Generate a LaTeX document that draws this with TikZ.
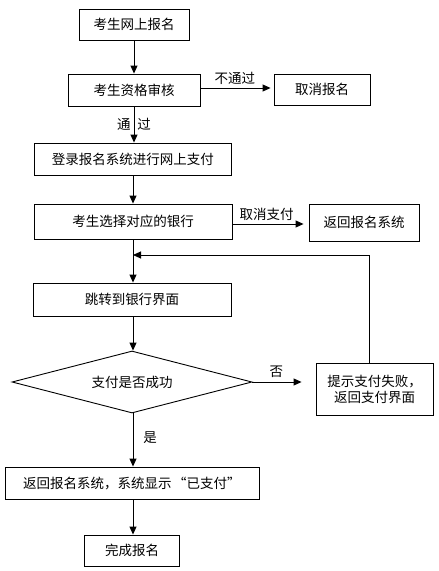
\documentclass[tikz,border=0pt]{standalone}
\usepackage{fontspec}
\setmainfont{Noto Sans CJK SC}
\usetikzlibrary{shapes.geometric,arrows.meta}
\begin{document}
\begin{tikzpicture}[x=1pt,y=-1pt,
  every node/.style={font=\fontsize{13.5}{16}\selectfont},
  box/.style={draw,line width=0.9pt,inner sep=0pt,align=center},
  lbl/.style={inner sep=0pt},
  arr/.style={line width=0.9pt,-{Triangle[length=8pt,width=7pt]}}]
\fill[white] (0,0) rectangle (439,571);
\useasboundingbox (0,0) rectangle (439,571);
\node[box,minimum width=110pt,minimum height=31pt] (b1) at (134,24.5) {考生网上报名};
\node[box,minimum width=132pt,minimum height=32pt] (b2) at (134,90) {考生资格审核};
\node[box,minimum width=96pt,minimum height=31pt] (b3) at (322,89.5) {取消报名};
\node[box,minimum width=197pt,minimum height=32pt] (b4) at (133,159) {登录报名系统进行网上支付};
\node[box,minimum width=198pt,minimum height=35pt] (b5) at (133,221.5) {考生选择对应的银行};
\node[box,minimum width=110pt,minimum height=37pt] (b6) at (364,222.5) {返回报名系统};
\node[box,minimum width=198pt,minimum height=33pt] (b7) at (132,299.5) {跳转到银行界面};
\node[box,diamond,aspect=3.87,minimum width=240pt,minimum height=62pt] (d) at (132,382) {支付是否成功};
\node[box,minimum width=117pt,minimum height=52pt] (b8) at (374.5,389) {提示支付失败，\\返回支付界面};
\node[box,minimum width=254pt,minimum height=32pt] (b9) at (132,483) {返回报名系统，系统显示\hspace{1.5pt}“已支付”};
\node[box,minimum width=95pt,minimum height=31pt] (b10) at (132,550.5) {完成报名};
\coordinate (fb) at (133,255);
\draw[arr] (b1.south -| 134,0) -- (b2.north -| 134,0);
\draw[arr,shorten >=3pt] (b2.east |- 0,88) -- (b3.west |- 0,88) node[lbl,pos=0.47,above=3pt] {不通过};
\draw[arr] (b2.south -| 134,0) -- (b4.north -| 134,0) node[lbl,midway] {通\hspace{7pt}过};
\draw[arr] (b4.south -| 133,0) -- (b5.north -| 133,0);
\draw[arr,shorten >=5pt] (b5.east |- 0,224) -- (b6.west |- 0,224) node[lbl,pos=0.45,above=3pt] {取消支付};
\draw[arr] (b5.south -| 133,0) -- (b7.north -| 133,0);
\draw[arr] (b8.north -| 369,0) -- (369,255) -- (fb);
\draw[arr] (b7.south -| 133,0) -- (d.north -| 133,0);
\draw[arr,shorten >=14pt] (d.east) -- (b8.west |- d.east) node[lbl,pos=0.38,above=4pt] {否};
\draw[arr] (d.south -| 133,0) -- (b9.north -| 133,0) node[lbl,pos=0.45,right=10pt] {是};
\draw[arr] (b9.south -| 133,0) -- (b10.north -| 133,0);
\end{tikzpicture}
\end{document}
